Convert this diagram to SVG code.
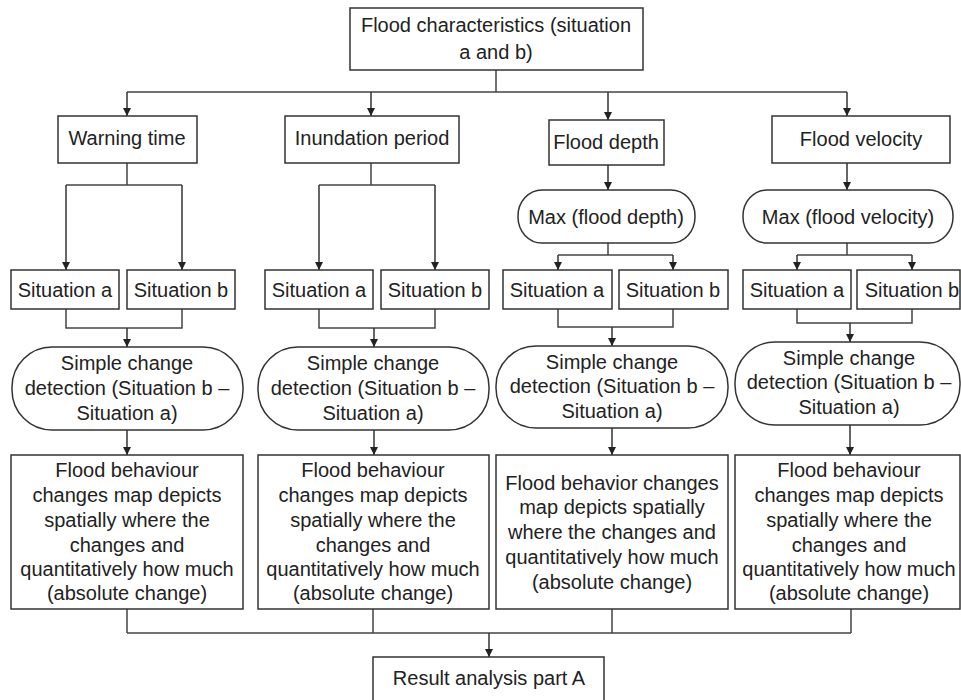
<svg xmlns="http://www.w3.org/2000/svg" width="961" height="700" viewBox="0 0 961 700">
<defs>
<marker id="arr" viewBox="0 0 10 10" refX="10" refY="5" markerWidth="9" markerHeight="8" markerUnits="userSpaceOnUse" orient="auto">
<path d="M0,0 L10,5 L0,10 z" fill="#222"/>
</marker>
<style>
.box{fill:#fff;stroke:#333;stroke-width:1.5}
.t{font-family:"Liberation Sans",Arial,sans-serif;font-size:20px;fill:#222;text-anchor:middle}
.c{fill:none;stroke:#444;stroke-width:1.5}
.a{fill:none;stroke:#333;stroke-width:1.5;marker-end:url(#arr)}
</style>
</defs>
<rect x="0" y="0" width="961" height="700" fill="#fff"/>

<g id="connectors">
<path class="c" d="M496,70 V92 M127,92 H847"/>
<path class="a" d="M127,92 V116"/>
<path class="a" d="M371,92 V116"/>
<path class="a" d="M608,92 V120"/>
<path class="a" d="M847,92 V116"/>
<!-- col1 -->
<path class="c" d="M127,163 V185 M66,185 H182"/>
<path class="a" d="M66,185 V270"/>
<path class="a" d="M182,185 V270"/>
<path class="c" d="M66,309 V328 H182 V309"/>
<path class="a" d="M127,328 V347"/>
<path class="a" d="M127,430 V455"/>
<!-- col2 -->
<path class="c" d="M371,163 V185 M319,185 H435"/>
<path class="a" d="M319,185 V270"/>
<path class="a" d="M435,185 V270"/>
<path class="c" d="M319,309 V328 H435 V309"/>
<path class="a" d="M374,328 V347"/>
<path class="a" d="M374,430 V455"/>
<!-- col3 -->
<path class="a" d="M608,165 V190"/>
<path class="c" d="M608,243 V255 M558,255 H673"/>
<path class="a" d="M558,255 V270"/>
<path class="a" d="M673,255 V270"/>
<path class="c" d="M558,309 V327 H673 V309"/>
<path class="a" d="M612,327 V346"/>
<path class="a" d="M612,428 V455"/>
<!-- col4 -->
<path class="a" d="M847,163 V190"/>
<path class="c" d="M847,243 V255 M797,255 H912"/>
<path class="a" d="M797,255 V270"/>
<path class="a" d="M912,255 V270"/>
<path class="c" d="M797,309 V323 H912 V309"/>
<path class="a" d="M850,323 V342"/>
<path class="a" d="M850,425 V455"/>
<!-- bottom -->
<path class="c" d="M127,609 V633 M373,609 V633 M612,609 V633 M851,609 V633 M127,633 H851"/>
<path class="a" d="M489,633 V657"/>
</g>

<g id="top">
<rect class="box" x="350" y="8" width="293" height="62"/>
<text class="t" x="496" y="32">Flood characteristics (situation</text>
<text class="t" x="496" y="59">a and b)</text>
</g>

<g id="warning">
<rect class="box" x="58" y="116" width="139" height="47"/>
<text class="t" x="127" y="145">Warning time</text>
</g>
<g id="inundation">
<rect class="box" x="285" y="116" width="174" height="47"/>
<text class="t" x="372" y="145">Inundation period</text>
</g>
<g id="depth">
<rect class="box" x="549" y="120" width="115" height="45"/>
<text class="t" x="606" y="149">Flood depth</text>
</g>
<g id="velocity">
<rect class="box" x="772" y="116" width="178" height="47"/>
<text class="t" x="861" y="146">Flood velocity</text>
</g>

<g id="maxdepth">
<rect class="box" x="518" y="190" width="177" height="53" rx="24" ry="26"/>
<text class="t" x="606" y="224">Max (flood depth)</text>
</g>
<g id="maxvel">
<rect class="box" x="743" y="190" width="210" height="53" rx="24" ry="26"/>
<text class="t" x="848" y="224">Max (flood velocity)</text>
</g>

<g id="s1a"><rect class="box" x="11" y="270" width="108" height="39"/><text class="t" x="65" y="297">Situation a</text></g>
<g id="s1b"><rect class="box" x="127" y="270" width="108" height="39"/><text class="t" x="181" y="297">Situation b</text></g>
<g id="s2a"><rect class="box" x="265" y="270" width="108" height="39"/><text class="t" x="319" y="297">Situation a</text></g>
<g id="s2b"><rect class="box" x="381" y="270" width="108" height="39"/><text class="t" x="435" y="297">Situation b</text></g>
<g id="s3a"><rect class="box" x="503" y="270" width="109" height="39"/><text class="t" x="557" y="297">Situation a</text></g>
<g id="s3b"><rect class="box" x="619" y="270" width="109" height="39"/><text class="t" x="673" y="297">Situation b</text></g>
<g id="s4a"><rect class="box" x="743" y="270" width="108" height="39"/><text class="t" x="797" y="297">Situation a</text></g>
<g id="s4b"><rect class="box" x="857" y="270" width="103" height="39"/><text class="t" x="912" y="297">Situation b</text></g>

<g id="scd1">
<rect class="box" x="12" y="347" width="231" height="83" rx="40" ry="40"/>
<text class="t" x="127" y="370">Simple change</text>
<text class="t" x="127" y="395">detection (Situation b –</text>
<text class="t" x="127" y="420">Situation a)</text>
</g>
<g id="scd2">
<rect class="box" x="258" y="347" width="231" height="83" rx="40" ry="40"/>
<text class="t" x="373" y="370">Simple change</text>
<text class="t" x="373" y="395">detection (Situation b –</text>
<text class="t" x="373" y="420">Situation a)</text>
</g>
<g id="scd3">
<rect class="box" x="496" y="346" width="232" height="82" rx="40" ry="40"/>
<text class="t" x="612" y="369">Simple change</text>
<text class="t" x="612" y="393">detection (Situation b –</text>
<text class="t" x="612" y="418">Situation a)</text>
</g>
<g id="scd4">
<rect class="box" x="735" y="342" width="225" height="83" rx="40" ry="40"/>
<text class="t" x="849" y="365">Simple change</text>
<text class="t" x="849" y="389">detection (Situation b –</text>
<text class="t" x="849" y="414">Situation a)</text>
</g>

<g id="map1">
<rect class="box" x="11" y="455" width="232" height="154"/>
<text class="t" x="127" y="477">Flood behaviour</text>
<text class="t" x="127" y="502">changes map depicts</text>
<text class="t" x="127" y="527">spatially where the</text>
<text class="t" x="127" y="552">changes and</text>
<text class="t" x="127" y="576">quantitatively how much</text>
<text class="t" x="127" y="600">(absolute change)</text>
</g>
<g id="map2">
<rect class="box" x="258" y="455" width="231" height="154"/>
<text class="t" x="373" y="477">Flood behaviour</text>
<text class="t" x="373" y="502">changes map depicts</text>
<text class="t" x="373" y="527">spatially where the</text>
<text class="t" x="373" y="552">changes and</text>
<text class="t" x="373" y="576">quantitatively how much</text>
<text class="t" x="373" y="600">(absolute change)</text>
</g>
<g id="map3">
<rect class="box" x="496" y="455" width="232" height="154"/>
<text class="t" x="612" y="490">Flood behavior changes</text>
<text class="t" x="612" y="514">map depicts spatially</text>
<text class="t" x="612" y="539">where the changes and</text>
<text class="t" x="612" y="564">quantitatively how much</text>
<text class="t" x="612" y="589">(absolute change)</text>
</g>
<g id="map4">
<rect class="box" x="735" y="455" width="225" height="154"/>
<text class="t" x="849" y="477">Flood behaviour</text>
<text class="t" x="849" y="502">changes map depicts</text>
<text class="t" x="849" y="527">spatially where the</text>
<text class="t" x="849" y="552">changes and</text>
<text class="t" x="849" y="576">quantitatively how much</text>
<text class="t" x="849" y="600">(absolute change)</text>
</g>

<g id="result">
<rect class="box" x="373" y="657" width="231" height="50"/>
<text class="t" x="489" y="685">Result analysis part A</text>
</g>
</svg>
